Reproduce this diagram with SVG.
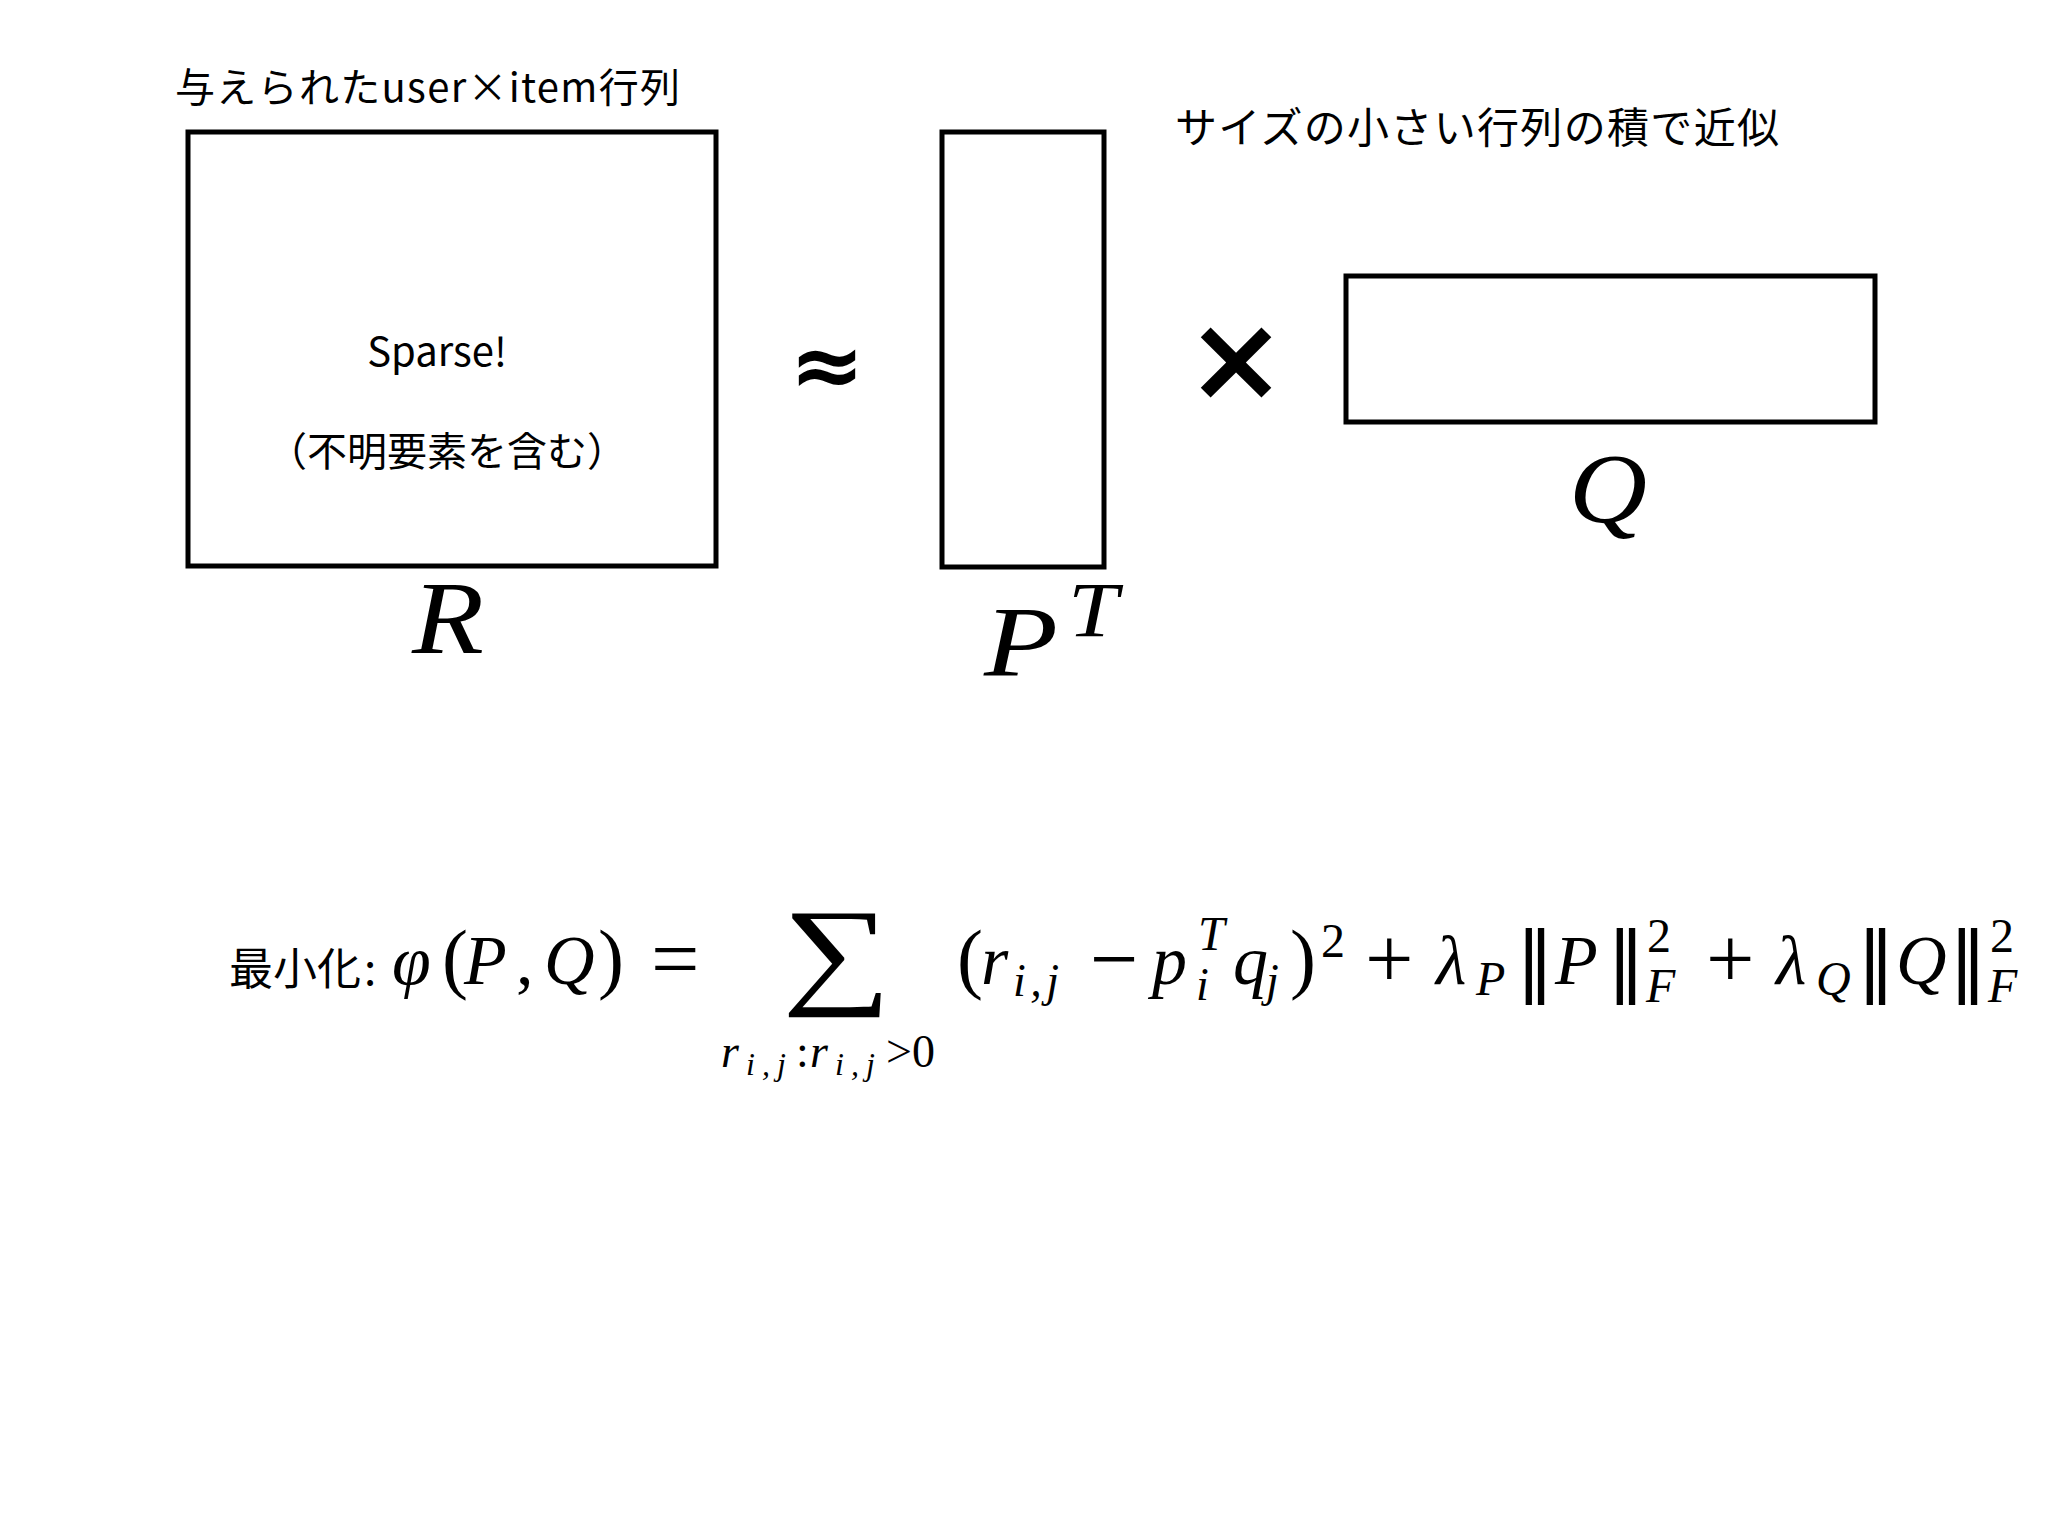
<svg xmlns="http://www.w3.org/2000/svg" width="2048" height="1536" viewBox="0 0 2048 1536">
<style>
.box{fill:none;stroke:#000;stroke-width:5;stroke-linejoin:miter}
.jp{font-family:"Noto Sans CJK JP","Noto Sans",sans-serif;fill:#000}
.mi{font-family:"Liberation Serif","DejaVu Serif",serif;font-style:italic;fill:#000}
.mr{font-family:"Liberation Serif","DejaVu Serif",serif;fill:#000}
.op{font-family:"DejaVu Sans",sans-serif;fill:#000}
</style>
<rect width="2048" height="1536" fill="#fff"/>
<g id="title-given">
<text class="jp" x="175" y="102" font-size="40" textLength="505">与えられたuser×item行列</text>
</g>
<g id="title-approx">
<text class="jp" x="1175" y="143" font-size="42" textLength="604">サイズの小さい行列の積で近似</text>
</g>
<g id="matrix-R">
<rect class="box" x="188" y="132" width="528" height="434"/>
<text class="jp" x="437" y="366" font-size="40" text-anchor="middle">Sparse!</text>
<text class="jp" x="447" y="466" font-size="40" text-anchor="middle">（不明要素を含む）</text>
<text class="mi" x="412" y="653" font-size="104" textLength="72" lengthAdjust="spacingAndGlyphs">R</text>
</g>
<g id="approx-sign">
<text class="op" x="827" y="396" font-size="90" font-weight="bold" text-anchor="middle">≈</text>
</g>
<g id="matrix-PT">
<rect class="box" x="942" y="132" width="162" height="435"/>
<text class="mi" x="984" y="675" font-size="100" textLength="74" lengthAdjust="spacingAndGlyphs">P</text>
<text class="mi" x="1068" y="636" font-size="78" textLength="50" lengthAdjust="spacingAndGlyphs">T</text>
</g>
<g id="times-sign">
<text class="op" x="1236" y="400" font-size="120" font-weight="bold" text-anchor="middle">×</text>
</g>
<g id="matrix-Q">
<rect class="box" x="1346" y="276" width="529" height="146"/>
<text class="mi" x="1569" y="522" font-size="100" textLength="78" lengthAdjust="spacingAndGlyphs">Q</text>
</g>
<g id="connectors"/>
<g id="objective">
<text class="jp" x="229" y="985" font-size="44">最小化</text>
<text class="jp" x="364" y="985" font-size="44">:</text>
<text class="mi" x="392" y="984" font-size="70">φ</text>
<text class="mr" x="442" y="984" font-size="78">(</text>
<text class="mi" x="464" y="984" font-size="70">P</text>
<text class="mr" x="516" y="984" font-size="70">,</text>
<text class="mi" x="544" y="984" font-size="70">Q</text>
<text class="mr" x="598" y="984" font-size="78">)</text>
<text class="mr" x="651" y="988" font-size="86">=</text>
<text class="mr" x="837" y="992" font-size="120" text-anchor="middle" transform="translate(837 0) scale(1.28 1) translate(-837 0)">∑</text>
<text class="mi" x="721" y="1067" font-size="46">r</text>
<text class="mi" x="746" y="1075" font-size="32" textLength="40">i,j</text>
<text class="mr" x="796" y="1067" font-size="46">:</text>
<text class="mi" x="810" y="1067" font-size="46">r</text>
<text class="mi" x="835" y="1075" font-size="32" textLength="40">i,j</text>
<text class="mr" x="886" y="1067" font-size="46">&gt;0</text>
<text class="mr" x="957" y="984" font-size="78">(</text>
<text class="mi" x="981" y="984" font-size="70">r</text>
<text class="mi" x="1013" y="996" font-size="46" textLength="46">i,j</text>
<text class="mr" x="1090" y="988" font-size="86">−</text>
<text class="mi" x="1152" y="984" font-size="70">p</text>
<text class="mi" x="1198" y="950" font-size="48">T</text>
<text class="mi" x="1196" y="1000" font-size="46">i</text>
<text class="mi" x="1233" y="984" font-size="70">q</text>
<text class="mi" x="1266" y="996" font-size="46">j</text>
<text class="mr" x="1290" y="984" font-size="78">)</text>
<text class="mr" x="1321" y="957" font-size="48">2</text>
<text class="mr" x="1365" y="988" font-size="86">+</text>
<text class="mi" x="1436" y="984" font-size="70">λ</text>
<text class="mi" x="1476" y="995" font-size="48">P</text>
<text class="op" x="1535" y="986" font-size="76" text-anchor="middle">‖</text>
<text class="mi" x="1555" y="984" font-size="70">P</text>
<text class="op" x="1626" y="986" font-size="76" text-anchor="middle">‖</text>
<text class="mr" x="1647" y="952" font-size="48">2</text>
<text class="mi" x="1646" y="1002" font-size="48">F</text>
<text class="mr" x="1706" y="988" font-size="86">+</text>
<text class="mi" x="1776" y="984" font-size="70">λ</text>
<text class="mi" x="1816" y="995" font-size="48">Q</text>
<text class="op" x="1876" y="986" font-size="76" text-anchor="middle">‖</text>
<text class="mi" x="1896" y="984" font-size="70">Q</text>
<text class="op" x="1968" y="986" font-size="76" text-anchor="middle">‖</text>
<text class="mr" x="1990" y="952" font-size="48">2</text>
<text class="mi" x="1988" y="1002" font-size="48">F</text>
</g>
</svg>
